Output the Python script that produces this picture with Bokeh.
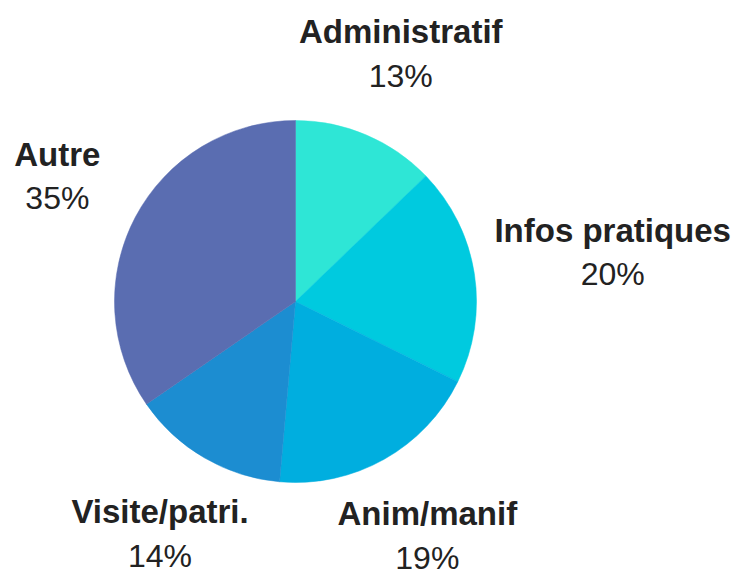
import math
from bokeh.plotting import figure
from bokeh.models import Range1d, ColumnDataSource
from bokeh.core.properties import value
from bokeh.embed import file_html
from bokeh.resources import INLINE

# ---- data ----
categories = ["Administratif", "Infos pratiques", "Anim/manif", "Visite/patri.", "Autre"]
shares = [12.8, 19.5, 19.1, 14.0, 34.6]
colors = ["#2ee6d6", "#00cadf", "#00aedf", "#1c8dd1", "#5a6db1"]

# ---- layout ----
W, H = 733, 569
CX, CY_PIX = 295, 301
R = 181
LABEL_R0 = 269
PAD = 18.5
FS_B = 33
FS_R = 32

# approximate bold glyph widths (em/1000) for label box estimation
BOLD_W = {"A": 722, "I": 278, "V": 667, "a": 556, "c": 556, "d": 611, "e": 556,
          "f": 333, "i": 278, "m": 889, "n": 611, "o": 611, "p": 611, "q": 611,
          "r": 389, "s": 556, "t": 333, "u": 611, "/": 278, ".": 278, " ": 278}


def text_width(s):
    return sum(BOLD_W.get(ch, 600) for ch in s) / 1000.0 * FS_B


total = sum(shares)
starts, ends, mids = [], [], []
acc = 0.0
for v in shares:
    f0 = acc / total
    acc += v
    f1 = acc / total
    starts.append(math.pi / 2 - f0 * 2 * math.pi)
    ends.append(math.pi / 2 - f1 * 2 * math.pi)
    mids.append((f0 + f1) / 2 * 2 * math.pi)  # clockwise from top

p = figure(width=W, height=H, output_backend="svg", toolbar_location=None,
           x_range=Range1d(0, W), y_range=Range1d(0, H),
           x_axis_type=None, y_axis_type=None, min_border=0,
           background_fill_color="white", border_fill_color="white")
p.outline_line_color = None
p.xgrid.visible = False
p.ygrid.visible = False

src = ColumnDataSource(dict(start=starts, end=ends, color=colors))
p.wedge(x=CX, y=H - CY_PIX, radius=R, start_angle="start", end_angle="end",
        direction="clock", fill_color="color", line_color="color", line_width=0.5,
        source=src)

lx, ly, px_, py_, pct = [], [], [], [], []
for cat, v, a in zip(categories, shares, mids):
    hw = text_width(cat) / 2
    r = LABEL_R0
    while True:
        bx = CX + r * math.sin(a)
        by = CY_PIX - r * math.cos(a)
        nx = min(max(CX, bx - hw), bx + hw)
        ny = min(max(CY_PIX, by - 34), by + 34)
        if math.hypot(nx - CX, ny - CY_PIX) >= R + PAD:
            break
        r += 0.5
    lx.append(bx)
    ly.append(H - (by - 22))
    px_.append(bx)
    py_.append(H - (by + 22))
    pct.append(f"{v / total * 100:.0f}%")

p.text(x=lx, y=ly, text=categories, text_align="center", text_baseline="alphabetic",
       text_font=value("Liberation Sans"), text_font_size=f"{FS_B}px",
       text_font_style="bold", text_color="#222222")
p.text(x=px_, y=py_, text=pct, text_align="center", text_baseline="alphabetic",
       text_font=value("Liberation Sans"), text_font_size=f"{FS_R}px",
       text_color="#222222")

open("out.html", "w").write(file_html(p, INLINE))
